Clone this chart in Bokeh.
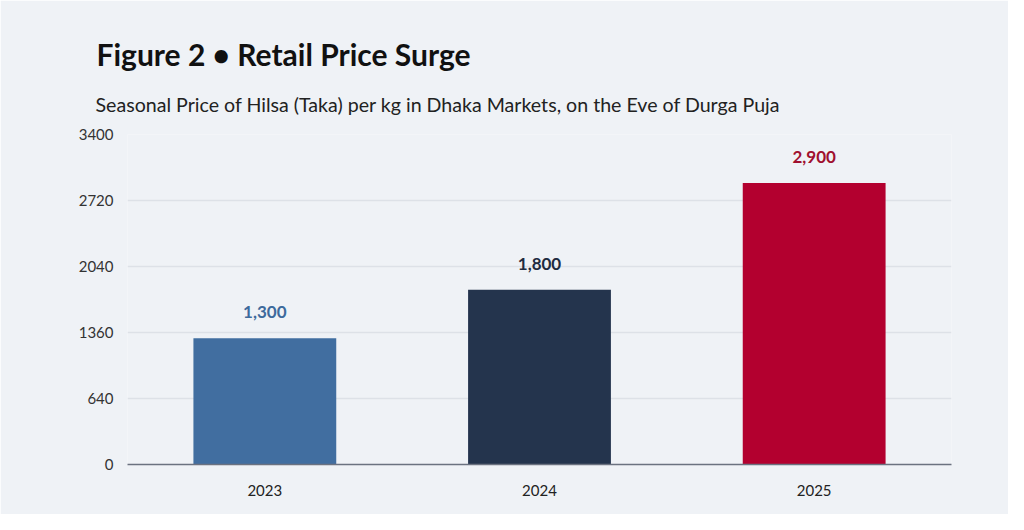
from bokeh.plotting import figure
from bokeh.models import ColumnDataSource, Title, FixedTicker
from bokeh.core.properties import value
from bokeh.embed import file_html
from bokeh.resources import INLINE

years = ["2023", "2024", "2025"]
prices = [1300, 1800, 2900]
price_labels = ["1,300", "1,800", "2,900"]
bar_colors = ["#416ea0", "#24344d", "#b3002f"]
label_colors = ["#3d6a9c", "#1e2b3f", "#a0102f"]
y_ticks = [0, 680, 1360, 2040, 2720, 3400]
y_tick_labels = ["0", "640", "1360", "2040", "2720", "3400"]
title_text = "Figure 2 \u2022 Retail Price Surge"
subtitle_text = "Seasonal Price of Hilsa (Taka) per kg in Dhaka Markets, on the Eve of Durga Puja"

FONT = "Lato"
BG = "#eff2f6"
W, H = 1008, 514

src = ColumnDataSource(dict(x=years, top=prices, lab=price_labels,
                            color=bar_colors, lcolor=label_colors))

p = figure(x_range=years, y_range=(0, 3400), width=W, height=H,
           output_backend="svg", toolbar_location=None, title=None,
           min_border_left=127, min_border_right=W - 951, min_border_top=134,
           min_border_bottom=H - 464)
p.background_fill_color = BG
p.border_fill_color = BG
p.outline_line_color = None

p.vbar(x="x", top="top", width=0.52, color="color", line_color=None, source=src)
p.text(x="x", y="top", text="lab", text_color="lcolor", source=src,
       text_font=value(FONT), text_font_size="17px", text_font_style="bold",
       text_align="center", text_baseline="middle", y_offset=-26)

p.yaxis.ticker = FixedTicker(ticks=y_ticks)
p.yaxis.major_label_overrides = {t: s for t, s in zip(y_ticks, y_tick_labels)}
p.yaxis.axis_line_color = None
p.yaxis.major_tick_line_color = None
p.yaxis.minor_tick_line_color = None
p.yaxis.major_tick_out = 0
p.yaxis.major_label_standoff = 14
p.yaxis.major_label_text_font = FONT
p.yaxis.major_label_text_font_size = "15px"
p.yaxis.major_label_text_color = "#333333"

p.xaxis.axis_line_color = "#6b7280"
p.xaxis.axis_line_width = 1.5
p.xaxis.major_tick_line_color = None
p.xaxis.major_tick_out = 0
p.xaxis.major_label_standoff = 20
p.xaxis.major_label_text_font = FONT
p.xaxis.major_label_text_font_size = "15px"
p.xaxis.major_label_text_color = "#222222"

p.xgrid.grid_line_color = None
p.ygrid.grid_line_color = "#dde1e7"
p.ygrid.grid_line_width = 1.5

p.add_layout(Title(text=subtitle_text, align="left", offset=-32,
                   text_font=FONT, text_font_size="19.6px", text_font_style="normal",
                   text_color="#222222", standoff=37), "above")
p.add_layout(Title(text=title_text, align="left", offset=-31,
                   text_font=FONT, text_font_size="30px", text_font_style="bold",
                   text_color="#111111", standoff=1), "above")

open("out.html", "w").write(file_html(p, INLINE))
